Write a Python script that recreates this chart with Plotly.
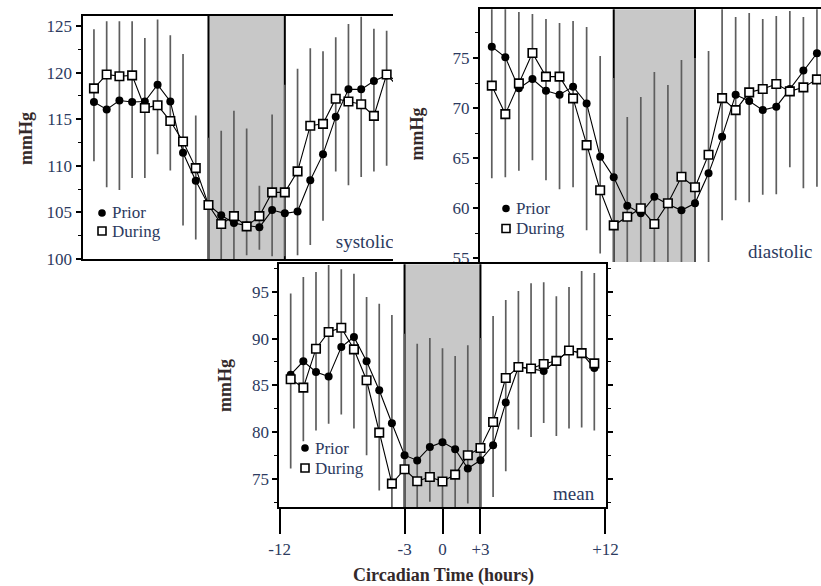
import plotly.graph_objects as go

# ---------------- data ----------------
hours = list(range(-12, 13))
x_tick_vals = [-12.88, -3, 0, 3, 12.88]
x_tick_text = ["-12", "-3", "0", "+3", "+12"]

sys_prior = [116.85, 116.05, 117.0, 116.85, 116.9, 118.7, 116.9, 111.4, 108.4, 105.8, 104.7, 103.85, 103.6,
             103.4, 105.25, 104.9, 105.1, 108.45, 111.25, 115.25, 118.2, 118.2, 119.1, 119.7, 119.0]
sys_during = [118.3, 119.8, 119.6, 119.7, 116.2, 116.5, 114.8, 112.6, 109.75, 105.8, 103.75, 104.6, 103.5,
              104.6, 107.15, 107.15, 109.4, 114.3, 114.5, 117.2, 116.9, 116.6, 115.35, 119.8, 118.3]
sys_hi = [124.65, 125.5, 125.5, 125.5, 123.7, 125.7, 124.0, 122.0, 115.4, 113.0, 113.75, 115.9, 114.0,
          107.85, 115.5, 118.7, 120.4, 122.6, 122.3, 123.8, 125.2, 126.0, 124.7, 124.5, 125.0]
sys_lo = [110.5, 107.7, 107.4, 108.7, 108.7, 111.25, 109.5, 103.6, 102.1, 99.0, 99.0, 99.0, 100.4,
          101.0, 100.3, 100.3, 100.4, 101.5, 104.1, 109.4, 107.9, 108.8, 109.4, 110.0, 110.0]

dia_prior = [76.13, 75.07, 71.97, 72.9, 71.74, 71.34, 72.14, 70.47, 65.15, 63.09, 60.26, 59.5, 61.16,
             60.4, 59.8, 60.5, 63.49, 67.15, 71.34, 70.7, 69.8, 70.14, 71.9, 73.74, 75.47]
dia_during = [72.24, 69.4, 72.47, 75.5, 73.14, 73.14, 70.97, 66.3, 61.8, 58.3, 59.16, 60.0, 58.43,
              60.5, 63.15, 62.1, 65.35, 71.0, 69.8, 71.57, 71.9, 72.4, 71.67, 72.07, 72.87]
dia_hi = [80.5, 80.5, 79.6, 79.4, 78.9, 78.5, 78.7, 78.1, 75.2, 73.0, 69.1, 71.1, 73.6,
          72.3, 74.8, 75.0, 75.7, 80.5, 79.1, 79.5, 78.9, 79.2, 79.7, 79.1, 80.5]
dia_lo = [63.0, 63.1, 63.75, 64.8, 62.8, 61.9, 62.1, 57.8, 55.5, 54.0, 54.0, 54.0, 54.0,
          54.0, 54.0, 54.0, 54.0, 58.8, 60.8, 60.6, 61.35, 61.4, 64.1, 62.0, 62.15]

mean_prior = [86.15, 87.57, 86.44, 85.94, 89.1, 90.17, 87.57, 84.48, 80.96, 77.56, 77.0, 78.44, 78.95,
              78.19, 76.13, 77.02, 78.62, 83.17, 86.97, 86.8, 86.55, 87.6, 88.72, 88.45, 86.85]
mean_during = [85.66, 84.77, 88.92, 90.7, 91.16, 88.85, 85.55, 79.97, 74.53, 76.06, 74.78, 75.24, 74.75,
               75.49, 77.55, 78.33, 81.1, 85.8, 86.97, 86.8, 87.28, 87.62, 88.72, 88.45, 87.35]
mean_hi = [94.8, 96.57, 97.1, 97.85, 97.38, 96.9, 94.43, 93.7, 92.5, 90.5, 89.45, 90.06, 88.97,
           88.14, 89.28, 90.06, 92.4, 94.1, 95.07, 95.9, 96.0, 94.5, 95.5, 97.2, 97.0]
mean_lo = [76.13, 79.05, 80.2, 80.9, 81.9, 80.4, 77.56, 73.8, 71.0, 71.0, 71.0, 72.6, 71.0,
           72.0, 72.4, 71.0, 73.1, 75.85, 80.3, 79.5, 81.0, 79.6, 80.4, 80.5, 80.2]

night_start, night_end = -3, 3

# ---------------- styling ----------------
W, H = 821, 586
SERIF = "Liberation Serif"
NAVY = "#2c3a60"
DARK = "#33292a"
GRAY_BAR = "#5e5e5e"
SHADE = "#c8c8c8"


def px(x):
    return x / W


def py(y):
    return 1 - y / H


fig = go.Figure()

panels = [
    dict(xa="x", ya="y", prior=sys_prior, during=sys_during, hi=sys_hi, lo=sys_lo),
    dict(xa="x2", ya="y2", prior=dia_prior, during=dia_during, hi=dia_hi, lo=dia_lo),
    dict(xa="x3", ya="y3", prior=mean_prior, during=mean_during, hi=mean_hi, lo=mean_lo),
]

shapes = []
for p in panels:
    span = [h - l for h, l in zip(p["hi"], p["lo"])]
    fig.add_trace(go.Scatter(
        x=hours, y=p["lo"], xaxis=p["xa"], yaxis=p["ya"], mode="markers",
        marker=dict(size=1, color="rgba(0,0,0,0)"),
        error_y=dict(type="data", symmetric=False, array=span, arrayminus=[0] * len(span),
                     width=0, thickness=1.7, color=GRAY_BAR),
        hoverinfo="skip", showlegend=False))
    fig.add_trace(go.Scatter(
        x=hours, y=p["prior"], xaxis=p["xa"], yaxis=p["ya"], mode="lines+markers", name="Prior",
        line=dict(color="black", width=1.1),
        marker=dict(symbol="circle", size=8, color="black"), showlegend=False))
    fig.add_trace(go.Scatter(
        x=hours, y=p["during"], xaxis=p["xa"], yaxis=p["ya"], mode="lines+markers", name="During",
        line=dict(color="black", width=1.1),
        marker=dict(symbol="square", size=8.5, color="white", line=dict(color="black", width=1.6)),
        showlegend=False))
    shapes.append(dict(type="rect", xref=p["xa"], yref=p["ya"] + " domain", x0=night_start, x1=night_end,
                       y0=0, y1=1, fillcolor=SHADE, line=dict(width=0), layer="below"))
    for xv in (night_start, night_end):
        shapes.append(dict(type="line", xref=p["xa"], yref=p["ya"] + " domain", x0=xv, x1=xv,
                           y0=0, y1=1, line=dict(color="black", width=2), layer="below"))

# clipped panel label for the systolic panel (cut by neighbouring panel)
fig.add_trace(go.Scatter(x=[7.0], y=[101.7], xaxis="x", yaxis="y", mode="text", text=["systolic"],
                         textposition="middle right", cliponaxis=True,
                         textfont=dict(family=SERIF, size=19, color=NAVY),
                         hoverinfo="skip", showlegend=False))

annotations = []


def legend_at(cx, cy_p, cy_d, tx):
    r = 3.8
    shapes.append(dict(type="circle", xref="paper", yref="paper", x0=px(cx - r), x1=px(cx + r),
                       y0=py(cy_p + r), y1=py(cy_p - r), fillcolor="black", line=dict(width=0),
                       layer="above"))
    s = 4.0
    shapes.append(dict(type="rect", xref="paper", yref="paper", x0=px(cx - s), x1=px(cx + s),
                       y0=py(cy_d + s), y1=py(cy_d - s), fillcolor="white",
                       line=dict(color="black", width=1.6), layer="above"))
    for txt, cy in (("Prior", cy_p), ("During", cy_d)):
        annotations.append(dict(text=txt, xref="paper", yref="paper", x=px(tx), y=py(cy),
                                xanchor="left", yanchor="middle", showarrow=False,
                                font=dict(family=SERIF, size=17, color=NAVY)))


legend_at(102, 213, 231, 110)
legend_at(506, 208.5, 228.5, 514)
legend_at(305, 448, 468, 312.5)

for x0, y0 in ((25.5, 138.5), (416.5, 134), (225, 386)):
    annotations.append(dict(text="<b>mmHg</b>", xref="paper", yref="paper", x=px(x0), y=py(y0),
                            xanchor="center", yanchor="middle", textangle=-90, showarrow=False,
                            font=dict(family=SERIF, size=18, color=DARK)))

annotations.append(dict(text="diastolic", xref="paper", yref="paper", x=px(814), y=py(252),
                        xanchor="right", yanchor="middle", showarrow=False,
                        font=dict(family=SERIF, size=19, color=NAVY)))
annotations.append(dict(text="mean", xref="paper", yref="paper", x=px(597), y=py(493),
                        xanchor="right", yanchor="middle", showarrow=False,
                        font=dict(family=SERIF, size=19, color=NAVY)))
annotations.append(dict(text="<b>Circadian Time (hours)</b>", xref="paper", yref="paper",
                        x=px(443.5), y=py(575), xanchor="center", yanchor="middle", showarrow=False,
                        font=dict(family=SERIF, size=18, color=DARK)))

tickfont = dict(family=SERIF, size=17, color=NAVY)
common_y = dict(showgrid=False, zeroline=False, showline=True, linewidth=2, linecolor="black",
                ticks="outside", ticklen=5, tickwidth=1.5, tickcolor="black", dtick=5,
                minor=dict(ticks="outside", ticklen=3, tickwidth=1.2, tickcolor="black", dtick=2.5),
                tickfont=tickfont, automargin=False)
common_x = dict(showgrid=False, zeroline=False, showline=True, linewidth=2, linecolor="black",
                automargin=False)

fig.update_layout(
    width=W, height=H, margin=dict(l=0, r=0, t=0, b=0, autoexpand=False),
    paper_bgcolor="white", plot_bgcolor="rgba(0,0,0,0)",
    showlegend=False,
    xaxis=dict(domain=[px(82.5), px(393)], range=[-12.9, 11.5], mirror=True, ticks="",
               showticklabels=False, anchor="y", **common_x),
    yaxis=dict(domain=[py(259), py(16)], range=[100, 126.07], tick0=100, anchor="x", **common_y),
    xaxis2=dict(domain=[px(480), 1.0], range=[-12.87, 12.3], side="top", ticks="",
                showticklabels=False, anchor="y2", **common_x),
    yaxis2=dict(domain=[py(262), py(9.3)], range=[54.64, 79.86], tick0=55, anchor="x2", **common_y),
    xaxis3=dict(domain=[px(279.3), px(605.7)], range=[-12.9, 12.9], mirror=True, ticks="outside",
                ticklen=25, tickwidth=2, tickcolor="black", tickvals=x_tick_vals, ticktext=x_tick_text,
                tickfont=tickfont, anchor="y3", **common_x),
    yaxis3=dict(domain=[py(507.3), py(264.3)], range=[72.0, 97.92], tick0=75, anchor="x3",
                **common_y),
    shapes=shapes,
    annotations=annotations,
)
fig.update_layout(yaxis3_mirror="ticks")

fig.write_html("out.html")
